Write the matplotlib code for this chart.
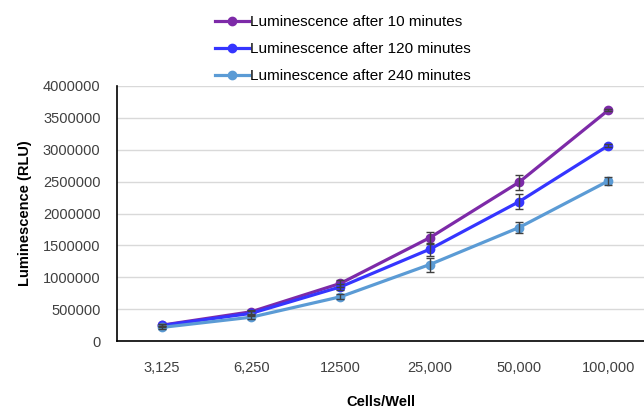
import numpy as np
from matplotlib import pyplot as plt

cells = ["3,125", "6,250", "12500", "25,000", "50,000", "100,000"]
lum_10 = [250000, 460000, 905000, 1620000, 2490000, 3620000]
lum_120 = [245000, 435000, 850000, 1440000, 2185000, 3065000]
lum_240 = [215000, 375000, 695000, 1200000, 1780000, 2510000]
err_10 = [20000, 30000, 50000, 95000, 115000, 20000]
err_120 = [20000, 30000, 50000, 100000, 120000, 20000]
err_240 = [20000, 25000, 40000, 110000, 80000, 70000]
labels = [
    "Luminescence after 10 minutes",
    "Luminescence after 120 minutes",
    "Luminescence after 240 minutes",
]
colors = ["#7D2AA8", "#3535FF", "#5B9BD5"]

plt.rcParams["font.family"] = ["Liberation Sans", "DejaVu Sans"]

fig = plt.figure(figsize=(6.44, 4.11), dpi=100)
ax = fig.add_axes([0.182, 0.170, 0.818, 0.621])

x = np.arange(len(cells))
handles = []
for vals, errs, color, label in zip([lum_10, lum_120, lum_240],
                                     [err_10, err_120, err_240], colors, labels):
    ax.errorbar(x, vals, yerr=errs, fmt="none", ecolor="#404040",
                elinewidth=1, capsize=3, capthick=1, zorder=4)
    h, = ax.plot(x, vals, color=color, lw=2.3, marker="o", markersize=6,
                 zorder=3, label=label)
    handles.append(h)

ax.set_xlim(-0.5, 5.4)
ax.set_ylim(0, 4000000)
ax.set_yticks(np.arange(0, 4000001, 500000))
ax.set_yticklabels([f"{int(v)}" for v in np.arange(0, 4000001, 500000)])
ax.set_xticks(x)
ax.set_xticklabels(cells)
ax.tick_params(axis="both", length=0, labelsize=10.5, labelcolor="#404040")
ax.tick_params(axis="y", pad=12)
ax.tick_params(axis="x", pad=14)
ax.grid(axis="y", color="#D9D9D9", lw=1)
ax.set_axisbelow(True)
for s in ["top", "right"]:
    ax.spines[s].set_visible(False)
for s in ["left", "bottom"]:
    ax.spines[s].set_color("black")
    ax.spines[s].set_linewidth(1.2)

ax.set_ylabel("Luminescence (RLU)", fontsize=10.5, fontweight="bold", labelpad=8)
ax.set_xlabel("Cells/Well", fontsize=10.5, fontweight="bold", labelpad=15)

fig.legend(handles=handles, loc="upper left", bbox_to_anchor=(0.315, 0.993),
           frameon=False, fontsize=11, handlelength=2.2, handletextpad=0.1,
           labelspacing=0.85, borderpad=0.3)

plt.savefig("out.png", dpi=100)
plt.close(fig)
